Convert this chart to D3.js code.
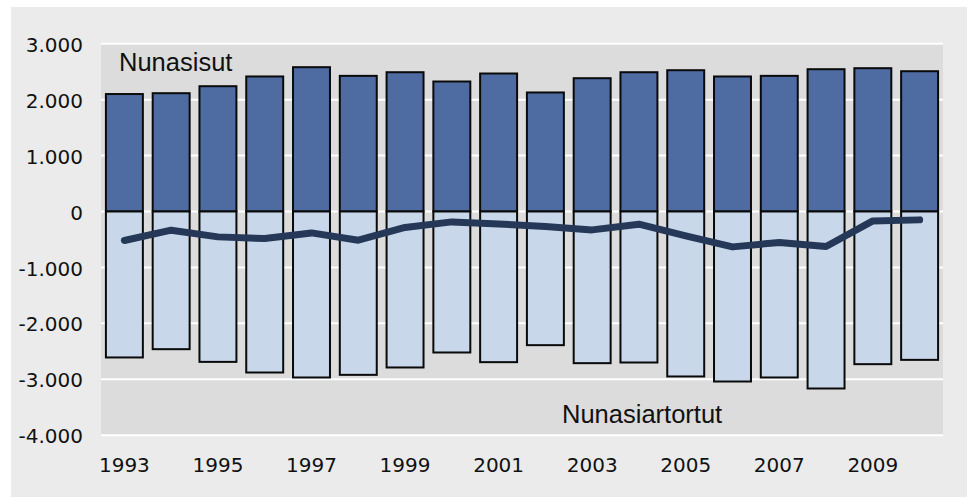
<!DOCTYPE html>
<meta charset="utf-8">
<script src="https://d3js.org/d3.v7.min.js"></script>
<style>
  body { margin: 0; background: #fff; }
  .axis .domain { display: none; }
  .axis text { font-family: 'DejaVu Sans', Verdana, sans-serif; font-size: 20px; fill: #111; }
  .lbl { font-family: 'Liberation Sans', Arial, sans-serif; font-size: 25.5px; fill: #111; }
</style>
<body>
<svg width="967" height="497"></svg>
<script>
// years on the x axis
var years = [1993, 1994, 1995, 1996, 1997, 1998, 1999, 2000, 2001, 2002,
             2003, 2004, 2005, 2006, 2007, 2008, 2009, 2010];
// Nunasisut (arrivals)
var arrivals = [2100, 2115, 2240, 2414, 2580, 2425, 2490, 2324, 2467, 2128,
                2383, 2490, 2526, 2414, 2425, 2544, 2562, 2508];
// Nunasiartortut (departures)
var departures = [-2610, -2462, -2689, -2879, -2968, -2921, -2789, -2521, -2694, -2390,
                  -2712, -2700, -2950, -3040, -2968, -3165, -2730, -2653];
// net line
var net = [-518, -334, -454, -483, -383, -513, -286, -186, -222, -268,
           -329, -227, -436, -633, -554, -626, -168, -150];
var yTicks = [3000, 2000, 1000, 0, -1000, -2000, -3000, -4000];
var xLabels = [1993, 1995, 1997, 1999, 2001, 2003, 2005, 2007, 2009];

var svg = d3.select("svg");

// outer panel
svg.append("rect").attr("x", 11).attr("y", 7).attr("width", 956).attr("height", 490)
  .attr("fill", "#ebebeb");

var x = d3.scaleBand().domain(years).range([101, 943])
  .paddingInner(0.21).paddingOuter(0.105);
var y = d3.scaleLinear().domain([-4000, 3000]).range([435.2, 43.7]);

// plot background
svg.append("rect").attr("x", 101).attr("y", y(3000))
  .attr("width", 842).attr("height", y(-4000) - y(3000))
  .attr("fill", "#dcdcdc");

// gridlines
svg.append("g").selectAll("line").data(yTicks).join("line")
  .attr("x1", 101).attr("x2", 943)
  .attr("y1", function(d) { return y(d); }).attr("y2", function(d) { return y(d); })
  .attr("stroke", "#fff").attr("stroke-width", 2);

// bars
svg.append("g").selectAll("rect").data(years).join("rect")
  .attr("x", function(d) { return x(d); })
  .attr("width", x.bandwidth())
  .attr("y", function(d, i) { return y(arrivals[i]); })
  .attr("height", function(d, i) { return y(0) - y(arrivals[i]); })
  .attr("fill", "#4e6ca2").attr("stroke", "#0a0a0a").attr("stroke-width", 2);

svg.append("g").selectAll("rect").data(years).join("rect")
  .attr("x", function(d) { return x(d); })
  .attr("width", x.bandwidth())
  .attr("y", y(0))
  .attr("height", function(d, i) { return y(departures[i]) - y(0); })
  .attr("fill", "#c8d7ea").attr("stroke", "#0a0a0a").attr("stroke-width", 2);

// net line
var line = d3.line()
  .x(function(d, i) { return x(years[i]) + x.bandwidth() / 2; })
  .y(function(d) { return y(d); });
svg.append("path").datum(net).attr("d", line)
  .attr("fill", "none").attr("stroke", "#253858").attr("stroke-width", 7)
  .attr("stroke-linecap", "round").attr("stroke-linejoin", "round");

// axes
var loc = d3.formatLocale({decimal: ",", thousands: ".", grouping: [3], currency: ["", ""], minus: "-"});
var fmt = loc.format(",");

svg.append("g").attr("class", "axis")
  .attr("transform", "translate(85,0)")
  .call(d3.axisLeft(y).tickValues(yTicks).tickFormat(fmt).tickSize(0).tickPadding(2))
  .selectAll("text").attr("dy", "0.38em");

svg.append("g").attr("class", "axis")
  .attr("transform", "translate(0,458)")
  .call(d3.axisBottom(x).tickValues(xLabels).tickSize(0).tickPadding(0))
  .selectAll("text").attr("dy", "0.72em");

// series labels
svg.append("text").attr("class", "lbl").attr("x", 119).attr("y", 71).text("Nunasisut");
svg.append("text").attr("class", "lbl").attr("x", 562).attr("y", 423).text("Nunasiartortut");
</script>
</body>
